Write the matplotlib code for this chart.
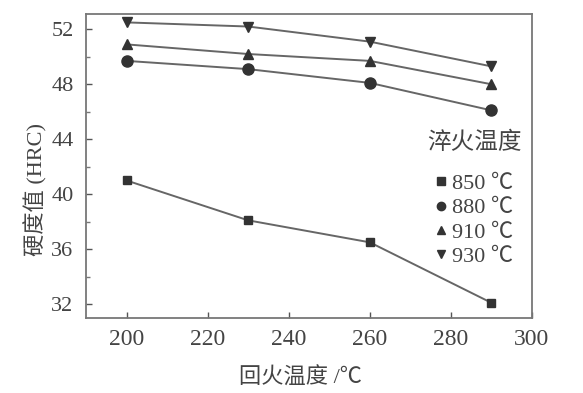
import matplotlib
matplotlib.use('Agg')
import matplotlib.pyplot as plt
from matplotlib.ticker import MultipleLocator

plt.rcParams['font.family'] = ['Liberation Serif', 'Noto Sans CJK SC', 'DejaVu Sans']

# tempering temperature (x) and hardness for each quench temperature
temper = [200, 230, 260, 290]
hrc_850 = [41.0, 38.1, 36.5, 32.1]
hrc_880 = [49.7, 49.1, 48.1, 46.1]
hrc_910 = [50.9, 50.2, 49.7, 48.0]
hrc_930 = [52.5, 52.2, 51.1, 49.3]
labels = ['850 ℃', '880 ℃', '910 ℃', '930 ℃']

fig = plt.figure(figsize=(5.83, 3.93), dpi=100)
ax = fig.add_axes([0.1475, 0.191, 0.765, 0.773])

line_c = '#666666'
mark_c = '#333333'
text_c = '#444444'
series = [(hrc_850, 's', 6), (hrc_880, 'o', 8), (hrc_910, '^', 7), (hrc_930, 'v', 7)]
for (vals, m, ms), lab in zip(series, labels):
    ax.plot(temper, vals, color=line_c, lw=1.4, marker=m, ms=ms,
            mfc=mark_c, mec=mark_c, label=lab)

ax.set_xlim(190, 300)
ax.set_ylim(31, 53.1)
ax.set_xticks([200, 220, 240, 260, 280, 300])
ax.set_yticks([32, 36, 40, 44, 48, 52])
ax.yaxis.set_minor_locator(MultipleLocator(2))
ax.tick_params(direction='in', colors='#555555', length=4, width=1)
ax.tick_params(axis='x', labelsize=17, pad=8)
ax.tick_params(axis='y', labelsize=16, pad=9)
ax.tick_params(which='minor', direction='in', length=3, width=1, colors='#777777')
for lbl in ax.get_xticklabels() + ax.get_yticklabels():
    lbl.set_color(text_c)
for s in ax.spines.values():
    s.set_color('#777777')
    s.set_linewidth(1.3)

# axis titles
ax.text(0.482, -0.197, '回火温度 /℃', transform=ax.transAxes, fontsize=16,
        color=text_c, ha='center', va='center')
ax.text(-0.112, 0.424, '硬度值 (HRC)', transform=ax.transAxes, fontsize=16,
        color=text_c, ha='center', va='center', rotation=90)

# legend
ax.text(0.87, 0.575, '淬火温度', transform=ax.transAxes, fontsize=17,
        color=text_c, ha='center', va='center')
leg = ax.legend(loc='upper left', bbox_to_anchor=(0.765, 0.505),
                frameon=False, handlelength=0.4, handletextpad=0.3,
                labelspacing=0.17, fontsize=16, borderaxespad=0)
for t in leg.get_texts():
    t.set_color(text_c)
for h in leg.legend_handles:
    h.set_linestyle('None')
    h.set_markersize(6)

fig.savefig('out.png', dpi=100)
